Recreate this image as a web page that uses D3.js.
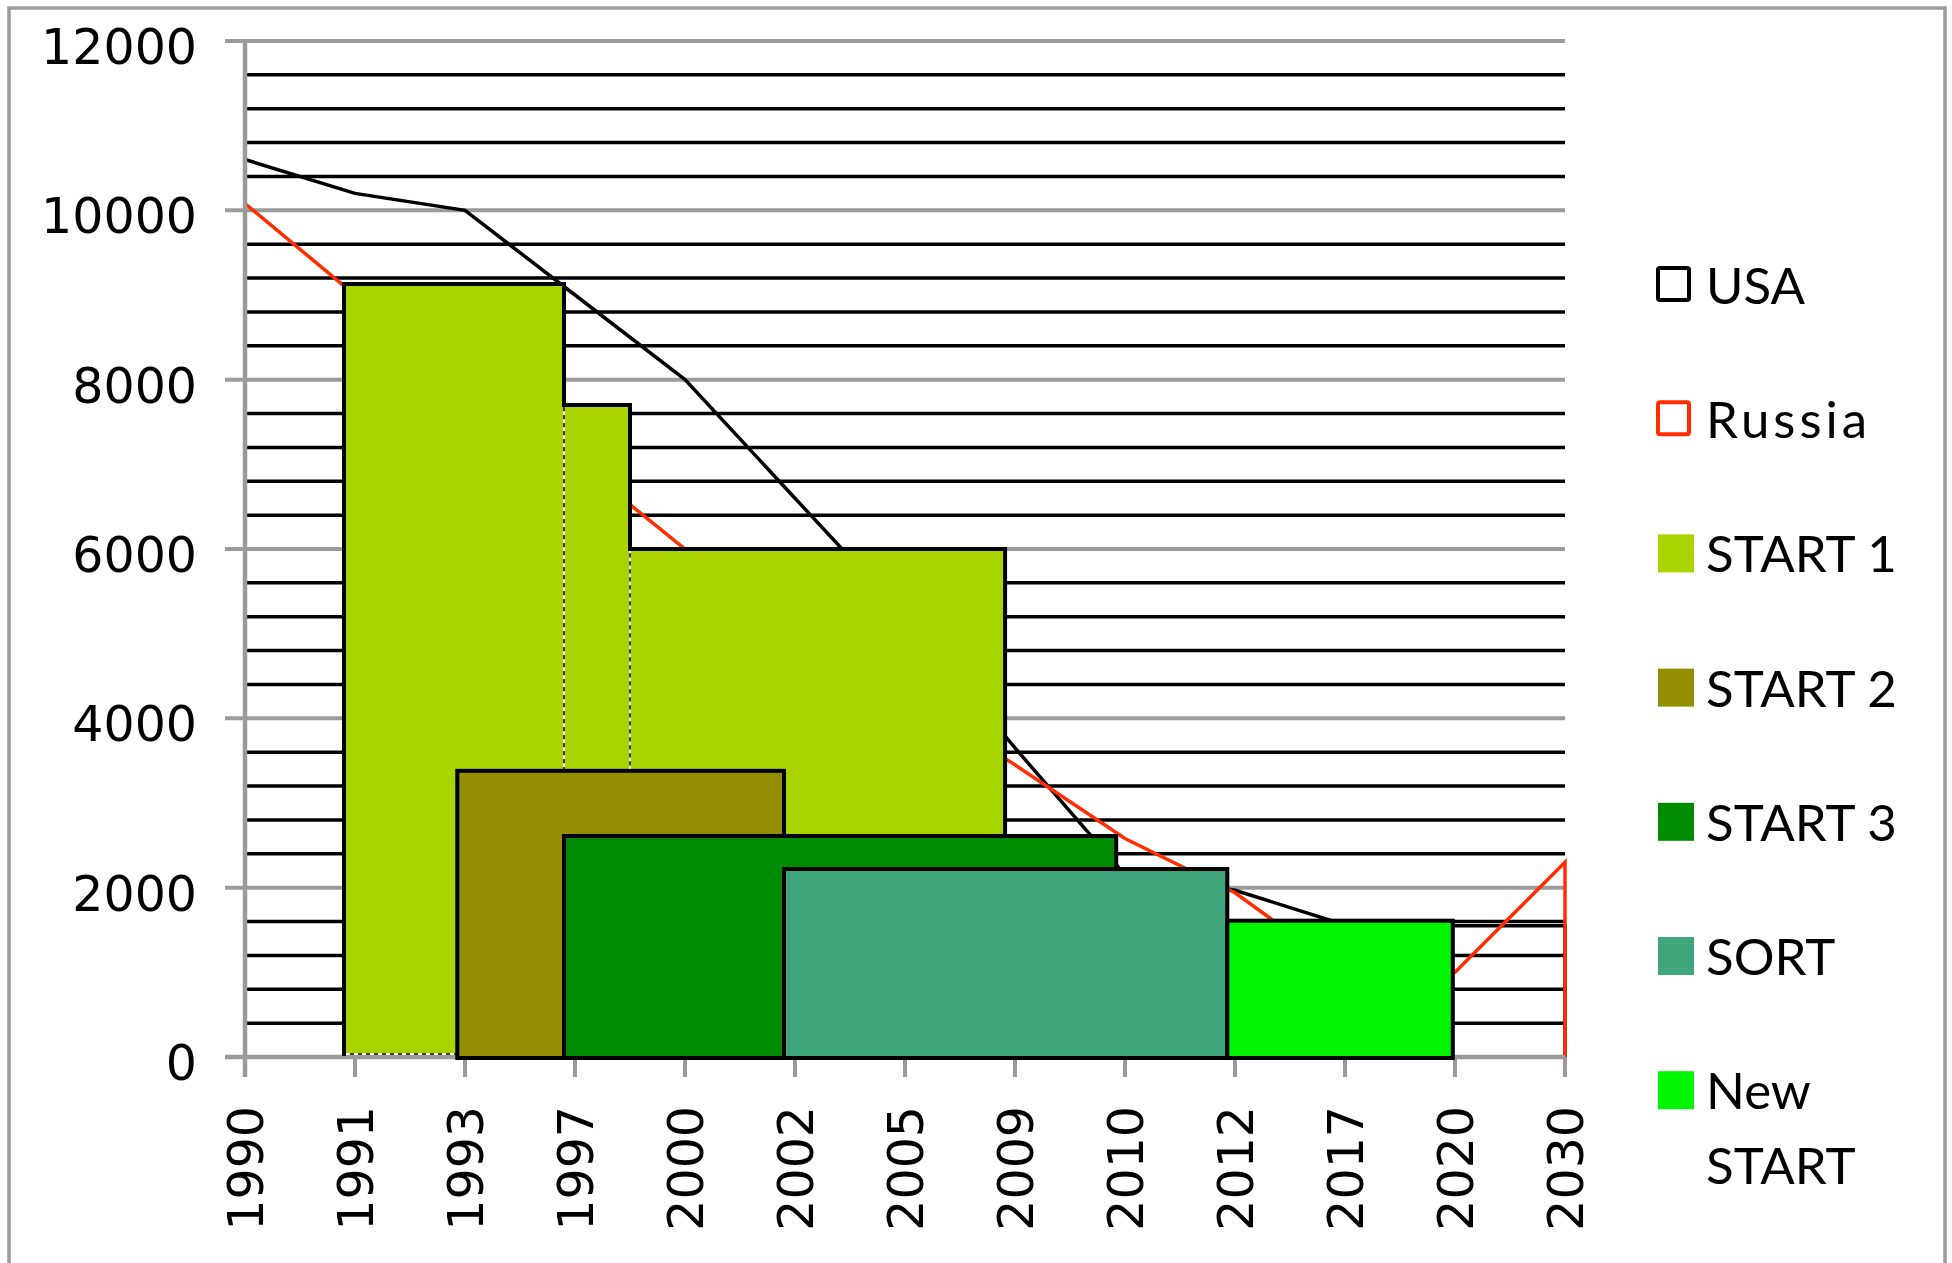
<!DOCTYPE html>
<html>
<head>
<meta charset="utf-8">
<script src="https://cdnjs.cloudflare.com/ajax/libs/d3/7.8.5/d3.min.js"></script>
<style>
  body { margin: 0; background: #fff; }
  svg text { font-family: "DejaVu Sans", sans-serif; fill: #000; }
  svg .legend text { font-family: Lato, "Open Sans", sans-serif; }
</style>
</head>
<body>
<div id="chart"></div>
<script>
var years = ["1990", "1991", "1993", "1997", "2000", "2002", "2005", "2009", "2010", "2012", "2017", "2020", "2030"];
var usa = [10600, 10200, 10000, 9000, 8000, 6600, 5200, 3650, 2150, 1970, 1560, 1550, 1550];
var russia = [10080, 9000, 8050, 7050, 6000, 5200, 4300, 3450, 2580, 1940, 1000, 1000, 2300];
var yTicks = [0, 2000, 4000, 6000, 8000, 10000, 12000];

// treaty boxes, spans in category index units (0 = 1990 ... 12 = 2030)
var start1From = [0.9, 2.9, 3.5];
var start1To = [2.9, 3.5, 6.91];
var start1Level = [9130, 7700, 6000];

var treatyNames = ["START 2", "START 3", "SORT", "New START"];
var treatyFrom = [1.93, 2.9, 4.9, 8.93];
var treatyTo = [4.9, 7.92, 8.93, 10.98];
var treatyLevel = [3380, 2610, 2220, 1610];

var legendNames = ["USA", "Russia", "START 1", "START 2", "START 3", "SORT", "New START"];

var colors = {
  "USA": "#000000",
  "Russia": "#ff2d00",
  "START 1": "#a9d400",
  "START 2": "#948f00",
  "START 3": "#008c00",
  "SORT": "#3fa67b",
  "New START": "#00f500"
};

var W = 1952, H = 1263;
var grey = "#9b9b9b";

var svg = d3.select("#chart").append("svg")
    .attr("width", W)
    .attr("height", H);

svg.append("rect").attr("width", W).attr("height", H).attr("fill", "#fff");

// outer frame
svg.append("rect")
  .attr("x", 9).attr("y", 8)
  .attr("width", 1936).attr("height", 1300)
  .attr("fill", "none").attr("stroke", grey).attr("stroke-width", 3.5);

var x = d3.scalePoint().domain(years).range([245, 1565]);
var xi = d3.scaleLinear().domain([0, years.length - 1]).range([245, 1565]);
var y = d3.scaleLinear().domain([0, 12000]).range([1057, 41]);

var plotLeft = x(years[0]), plotRight = x(years[years.length - 1]);

// minor gridlines (black), every 400
var minor = d3.range(400, 12000, 400).filter(function(v) { return v % 2000 !== 0; });
svg.append("g").selectAll("line").data(minor).enter().append("line")
  .attr("x1", plotLeft + 2).attr("x2", plotRight)
  .attr("y1", function(d) { return y(d); })
  .attr("y2", function(d) { return y(d); })
  .attr("stroke", "#000").attr("stroke-width", 3.5);

// major gridlines (grey) incl. the tick stubs on the left
svg.append("g").selectAll("line").data(yTicks.slice(1)).enter().append("line")
  .attr("x1", plotLeft - 20).attr("x2", plotRight)
  .attr("y1", function(d) { return y(d); })
  .attr("y2", function(d) { return y(d); })
  .attr("stroke", grey).attr("stroke-width", 4);

// USA and Russia drawn as unfilled areas
var area = d3.area()
  .x(function(d, i) { return x(years[i]); })
  .y0(y(0))
  .y1(function(d) { return y(d); });

svg.append("path").datum(usa)
  .attr("d", area)
  .attr("fill", "none").attr("stroke", colors["USA"]).attr("stroke-width", 3.5);

svg.append("path").datum(russia)
  .attr("d", area)
  .attr("fill", "none").attr("stroke", colors["Russia"]).attr("stroke-width", 3.5);

// axes lines + ticks
svg.append("line")
  .attr("x1", plotLeft - 20).attr("x2", plotRight)
  .attr("y1", y(0)).attr("y2", y(0))
  .attr("stroke", grey).attr("stroke-width", 4.5);
svg.append("line")
  .attr("x1", plotLeft).attr("x2", plotLeft)
  .attr("y1", y(12000) - 2).attr("y2", y(0) + 20)
  .attr("stroke", grey).attr("stroke-width", 4.5);
svg.append("g").selectAll("line").data(years).enter().append("line")
  .attr("x1", function(d) { return x(d); })
  .attr("x2", function(d) { return x(d); })
  .attr("y1", y(0)).attr("y2", y(0) + 20)
  .attr("stroke", grey).attr("stroke-width", 4);

// START 1 : stepped block, dashed inner borders and a solid silhouette
var base1 = y(0) - 3;
var s1 = svg.append("g");
start1Level.forEach(function(v, i) {
  s1.append("rect")
    .attr("x", xi(start1From[i])).attr("y", y(v))
    .attr("width", xi(start1To[i]) - xi(start1From[i])).attr("height", base1 - y(v))
    .attr("fill", colors["START 1"]);
});
start1Level.forEach(function(v, i) {
  var rx = xi(start1From[i]), rw = xi(start1To[i]) - xi(start1From[i]);
  s1.append("rect").attr("x", rx).attr("y", y(v)).attr("width", rw).attr("height", base1 - y(v))
    .attr("fill", "none").attr("stroke", "#fff").attr("stroke-width", 1.5);
  s1.append("rect").attr("x", rx).attr("y", y(v)).attr("width", rw).attr("height", base1 - y(v))
    .attr("fill", "none").attr("stroke", "#000").attr("stroke-width", 1.5)
    .attr("stroke-dasharray", "4 4");
});
var sil = d3.path();
sil.moveTo(xi(start1From[0]), base1 + 2);
start1Level.forEach(function(v, i) {
  sil.lineTo(xi(start1From[i]), y(v));
  sil.lineTo(xi(start1To[i]), y(v));
});
sil.lineTo(xi(start1To[start1To.length - 1]), base1 + 2);
s1.append("path").attr("d", sil.toString())
  .attr("fill", "none").attr("stroke", "#000").attr("stroke-width", 4);

// the other treaty boxes
svg.append("g").selectAll("rect").data(treatyNames).enter().append("rect")
  .attr("x", function(d, i) { return xi(treatyFrom[i]); })
  .attr("y", function(d, i) { return y(treatyLevel[i]); })
  .attr("width", function(d, i) { return xi(treatyTo[i]) - xi(treatyFrom[i]); })
  .attr("height", function(d, i) { return y(0) + 1 - y(treatyLevel[i]); })
  .attr("fill", function(d) { return colors[d]; })
  .attr("stroke", "#000").attr("stroke-width", 4);

// y labels
svg.append("g").selectAll("text").data(yTicks).enter().append("text")
  .attr("x", 197)
  .attr("y", function(d) { return y(d) + 23; })
  .attr("text-anchor", "end")
  .style("font-size", "49px")
  .text(function(d) { return d; });

// x labels, rotated
svg.append("g").selectAll("text").data(years).enter().append("text")
  .attr("transform", function(d) { return "translate(" + (x(d) + 18) + ",1106) rotate(-90)"; })
  .attr("text-anchor", "end")
  .style("font-size", "49px")
  .text(function(d) { return d; });

// legend
var legend = svg.append("g").attr("class", "legend");
legendNames.forEach(function(name, i) {
  var top = 266 + i * 134.2;
  var g = legend.append("g");
  if (i < 2) {
    g.append("rect")
      .attr("x", 1658).attr("y", top + 2).attr("width", 31).attr("height", 32)
      .attr("rx", 2)
      .attr("fill", "#fff").attr("stroke", colors[name]).attr("stroke-width", 4);
  } else {
    g.append("rect")
      .attr("x", 1658).attr("y", top).attr("width", 36).attr("height", 38)
      .attr("fill", colors[name]);
  }
  var words = name === "New START" ? ["New", "START"] : [name];
  words.forEach(function(w, j) {
    g.append("text")
      .attr("x", 1706)
      .attr("y", top + 38 + j * 75)
      .style("font-size", "51px")
      .style("letter-spacing", name === "Russia" ? "4px" : null)
      .text(w);
  });
});
</script>
</body>
</html>
